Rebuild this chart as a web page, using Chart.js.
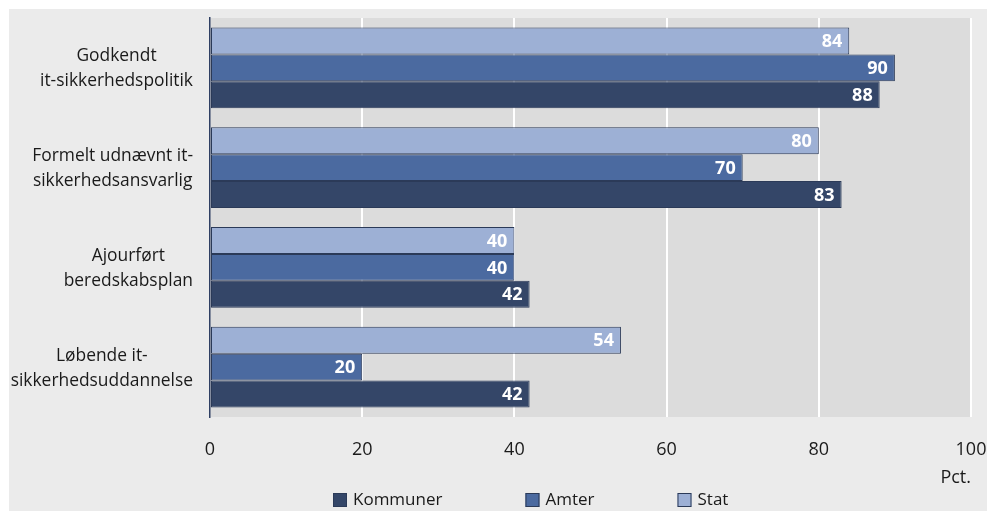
<!DOCTYPE html>
<html><head><meta charset="utf-8">
<script src="https://cdn.jsdelivr.net/npm/chart.js@4/dist/chart.umd.min.js"></script>
<style>
html,body{margin:0;padding:0;background:#ffffff;}
#wrap{position:absolute;left:9px;top:9px;width:978px;height:502px;background:#ebebeb;}
canvas{display:block;}
</style></head><body>
<div id="wrap"><canvas id="c" width="978" height="502"></canvas></div>
<script>
// ---- data ----
const categories = [
  ["Godkendt", "it-sikkerhedspolitik"],
  ["Formelt udnævnt it-", "sikkerhedsansvarlig"],
  ["Ajourført", "beredskabsplan"],
  ["Løbende it-", "sikkerhedsuddannelse"]
];
const seriesNames = ["Stat", "Amter", "Kommuner"];
const statValues = [84, 80, 40, 54];
const amterValues = [90, 70, 40, 20];
const kommunerValues = [88, 83, 42, 42];
const xTicks = [0, 20, 40, 60, 80, 100];
const xUnit = "Pct.";

const FONT = '"Open Sans", "DejaVu Sans", sans-serif';
const TEXT = '#1a1a1a';
const colors = { Stat: '#9db0d5', Amter: '#4b6aa0', Kommuner: '#344668' };
const borderCol = '#2b3a58';

const plotBg = {
  id: 'plotBg',
  beforeDraw(chart) {
    const {ctx, chartArea: a} = chart;
    ctx.save();
    ctx.fillStyle = '#dcdcdc';
    ctx.fillRect(a.left, a.top, a.right - a.left, a.bottom - a.top);
    ctx.restore();
  }
};

const yLabels = {
  id: 'yLabels',
  afterDraw(chart) {
    const ctx = chart.ctx, y = chart.scales.y;
    ctx.save();
    ctx.font = '17.4px ' + FONT;
    ctx.fillStyle = TEXT;
    ctx.textAlign = 'center';
    ctx.textBaseline = 'middle';
    const right = y.right - 17;
    categories.forEach((lines, i) => {
      const cy = y.getPixelForTick(i) + 1;
      const w = Math.max(...lines.map(l => ctx.measureText(l).width));
      const cx = right - w / 2;
      lines.forEach((l, j) => ctx.fillText(l, cx, cy + (j - (lines.length - 1) / 2) * 25));
    });
    ctx.restore();
  }
};

const barValues = {
  id: 'barValues',
  afterDatasetsDraw(chart) {
    const ctx = chart.ctx;
    ctx.save();
    ctx.font = 'bold 18px ' + FONT;
    ctx.fillStyle = '#ffffff';
    ctx.textAlign = 'right';
    ctx.textBaseline = 'middle';
    chart.data.datasets.forEach((ds, di) => {
      const meta = chart.getDatasetMeta(di);
      meta.data.forEach((bar, i) => {
        ctx.fillText(String(ds.data[i]), bar.x - 7, bar.y + 1);
      });
    });
    ctx.restore();
  }
};

const customLegend = {
  id: 'customLegend',
  afterDraw(chart) {
    const ctx = chart.ctx;
    ctx.save();
    ctx.font = '17px ' + FONT;
    ctx.textBaseline = 'middle';
    ctx.textAlign = 'left';
    let x = 324;
    const cy = 491;
    const dsList = chart.data.datasets.slice().reverse();
    dsList.forEach(ds => {
      ctx.fillStyle = ds.backgroundColor;
      ctx.fillRect(x, cy - 7, 14, 14);
      ctx.strokeStyle = borderCol;
      ctx.lineWidth = 1;
      ctx.strokeRect(x + 0.5, cy - 6.5, 13, 13);
      ctx.fillStyle = TEXT;
      ctx.fillText(ds.label, x + 20, cy);
      x += 20 + ctx.measureText(ds.label).width + 83;
    });
    ctx.restore();
  }
};

const valuesBySeries = { Stat: statValues, Amter: amterValues, Kommuner: kommunerValues };

new Chart(document.getElementById('c'), {
  type: 'bar',
  data: {
    labels: categories,
    datasets: seriesNames.map(n => ({
      label: n,
      data: valuesBySeries[n],
      backgroundColor: colors[n],
      borderColor: borderCol,
      borderWidth: 1,
      borderSkipped: false,
      categoryPercentage: 0.81,
      barPercentage: 1.0
    }))
  },
  options: {
    indexAxis: 'y',
    responsive: false,
    animation: false,
    devicePixelRatio: 1,
    layout: { padding: { top: 9, right: 16, left: 0, bottom: 0 } },
    plugins: { legend: { display: false }, tooltip: { enabled: false } },
    scales: {
      x: {
        min: 0, max: 100,
        afterBuildTicks: s => { s.ticks = xTicks.map(v => ({ value: v })); },
        grid: {
          color: c => (c.tick && c.tick.value === 0) ? 'rgba(0,0,0,0)' : '#ffffff',
          lineWidth: 2,
          drawTicks: true,
          tickLength: 22,
          tickColor: 'rgba(0,0,0,0)'
        },
        border: { display: false },
        ticks: { padding: 0, maxRotation: 0, color: TEXT, font: { family: FONT, size: 18 } },
        title: {
          display: true, text: xUnit, align: 'end', color: TEXT,
          font: { family: FONT, size: 18 },
          padding: { top: 0, bottom: 22 }
        },
        afterFit: s => { s.height = 94; }
      },
      y: {
        ticks: { display: false },
        grid: { display: false },
        border: { display: true, color: '#2f3f63', width: 1.5 },
        afterFit: s => { s.width = 201; }
      }
    }
  },
  plugins: [plotBg, yLabels, barValues, customLegend]
});
</script>
</body></html>
